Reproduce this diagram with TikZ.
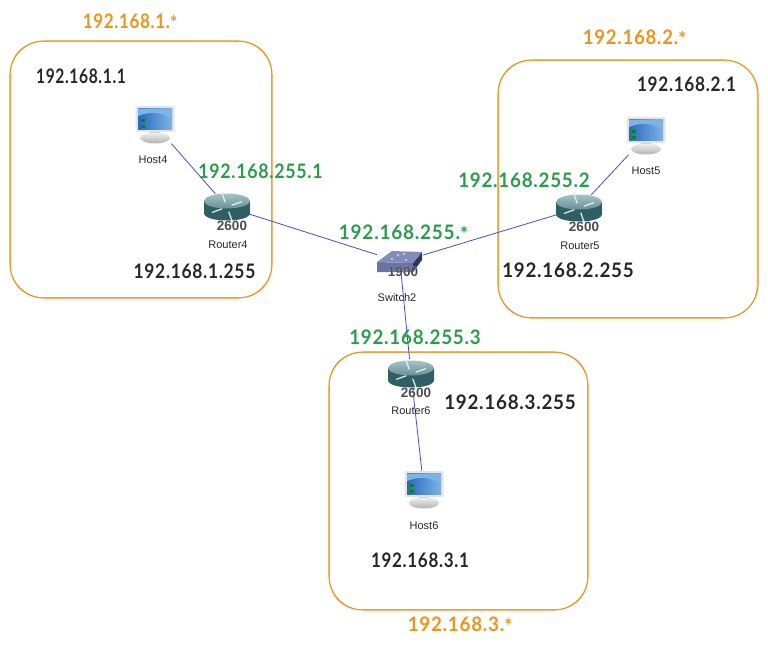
\documentclass[tikz,border=0pt]{standalone}
\usepackage{fontspec}
\usepackage{graphicx}
\usepackage[outline]{contour}
\usetikzlibrary{shapes.geometric}
\setmainfont{Liberation Sans}
\newfontfamily\handfont[LetterSpace=4]{Lato}
\contourlength{1pt}
\definecolor{netorange}{RGB}{243,146,20}
\definecolor{ipgreen}{RGB}{38,160,72}
\definecolor{linkblue}{RGB}{70,70,245}
\definecolor{routerdark}{RGB}{45,95,100}
\definecolor{routerlight}{RGB}{165,195,195}
\definecolor{routertop}{RGB}{105,145,150}
\definecolor{screenblue}{RGB}{40,105,190}
\definecolor{screenlight}{RGB}{125,180,230}
\definecolor{switchfront}{RGB}{105,115,165}
\definecolor{switchtop}{RGB}{130,140,185}
\definecolor{switchside}{RGB}{45,55,100}
\newcommand{\ipfit}[2]{\scalebox{#1}[1]{#2}}
\tikzset{
  netbox/.style={draw=netorange, line width=1.1pt, rounded corners=34pt, inner sep=0pt},
  netsketch/.style={draw=netorange, line width=0.5pt, rounded corners=31pt},
  link/.style={draw=linkblue, line width=0.8pt},
  devlabel/.style={font=\fontsize{11}{13}\selectfont, text=black!85, inner sep=0pt},
  iptext/.style={font=\handfont\bfseries\fontsize{20}{22}\selectfont, text=black!85, inner sep=0pt},
  ipnet/.style={iptext, text=netorange},
  iplink/.style={iptext, text=ipgreen},
  hostnode/.style={minimum width=39pt, minimum height=37pt, inner sep=0pt},
  routernode/.style={ellipse, minimum width=47pt, minimum height=30pt, inner sep=0pt},
  switchnode/.style={minimum width=46pt, minimum height=22pt, inner sep=0pt},
  modeltext/.style={font=\fontsize{13.5}{15}\selectfont\bfseries, text=black!70, inner sep=0pt},
  pics/hosticon/.style={code={
    \fill[black!10, rounded corners=1pt] (-19.5,-19) rectangle (19.5,7);
    \shade[left color=screenblue, right color=screenlight] (-17,-16.5) rectangle (17,4);
    \fill[screenlight] (-17,-16.5) -- (17,-16.5) -- (17,-6) .. controls (6,-13) and (-4,-14) .. (-17,-9) -- cycle;
    \fill[green!55!black] (-14,-6) rectangle (-10,-3);
    \fill[green!55!black] (-14,0) rectangle (-10,3);
    \fill[black!25] (-5,7) rectangle (5,10);
    \shade[top color=black!6, bottom color=black!30] (0,13) ellipse (15 and 5.5);
  }},
  pics/routericon/.style={code={
    \shade[left color=routerdark, middle color=routerlight, right color=routerdark]
      (-23,-6) -- (-23,6) .. controls (-23,16) and (23,16) .. (23,6) -- (23,-6) -- cycle;
    \shade[top color=routerlight, bottom color=routertop] (0,-6) ellipse (23 and 7.5);
    \foreach \ang in {20,110,200,290}
      \draw[white!90!teal, line width=1.2pt, rotate=\ang, yscale=0.33] (5,0) -- (16,0);
    \node[modeltext] (-model) at (5,19) {\contour{white}{2600}};
  }},
  pics/switchicon/.style={code={
    \fill[switchfront] (-23,0) -- (13,1) -- (13,10) -- (-23,10) -- cycle;
    \fill[switchside] (13,1) -- (22,-10) -- (22,-2) -- (13,10) -- cycle;
    \fill[switchtop] (-23,0) -- (-8,-11) -- (22,-10) -- (13,1) -- cycle;
    \foreach \dotx/\doty in {-8/-3,4/-8,6/-2,-2/-7}
      \fill[white] (\dotx,\doty) circle (0.9);
    \node[modeltext] (-model) at (3,10) {\contour{white}{1900}};
  }},
}
\begin{document}
\begin{tikzpicture}[x=1pt,y=-1pt]
  \useasboundingbox (0,0) rectangle (768,648);

  \node[netbox, minimum width=262pt, minimum height=257pt] (net1) at (141,169.5) {};
  \node[netbox, minimum width=260pt, minimum height=258pt] (net2) at (628,189) {};
  \node[netbox, minimum width=259pt, minimum height=258pt] (net3) at (458.5,481) {};
  \draw[netsketch] (10.5,41.5) rectangle (271.5,297.5);
  \draw[netsketch] (498.5,60.5) rectangle (757,317.5);
  \draw[netsketch] (329.5,352.5) rectangle (587.5,609.5);

  \foreach \name/\x/\y in {host4/155/125, host5/646/136, host6/424/490}
    \node[hostnode] (\name) at (\x,\y) {};
  \foreach \name/\x/\y in {router4/227/207, router5/579/208, router6/411/374}
    \node[routernode] (\name) at (\x,\y) {};
  \node[switchnode] (switch2) at (400,262) {};

  \draw[link] (host4) -- (router4);
  \draw[link] (host5) -- (router5);
  \draw[link] (host6) -- (router6);
  \draw[link] (router4) -- (switch2);
  \draw[link] (router5) -- (switch2);
  \draw[link] (router6) -- (switch2);

  \pic (host4pic) at (host4) {hosticon};
  \pic (host5pic) at (host5) {hosticon};
  \pic (host6pic) at (host6) {hosticon};
  \pic (router4pic) at (router4) {routericon};
  \pic (router5pic) at (router5) {routericon};
  \pic (router6pic) at (router6) {routericon};
  \pic (switch2pic) at (switch2) {switchicon};

  \node[devlabel] (host4name) at (153,160) {Host4};
  \node[devlabel] (host5name) at (646,171) {Host5};
  \node[devlabel] (host6name) at (424,526) {Host6};
  \node[devlabel] (router4name) at (228,245) {Router4};
  \node[devlabel] (router5name) at (580,246) {Router5};
  \node[devlabel] (router6name) at (411,411) {Router6};
  \node[devlabel] (switch2name) at (397,298) {Switch2};

  \node[ipnet] (net1ip) at (130,22) {\ipfit{.85}{192.168.1.\raisebox{-2pt}{*}}};
  \node[ipnet] (net2ip) at (634.5,38) {\ipfit{.93}{192.168.2.\raisebox{-2pt}{*}}};
  \node[ipnet] (net3ip) at (460,625) {\ipfit{.94}{192.168.3.\raisebox{-2pt}{*}}};

  \node[iptext] (host4ip) at (81,76) {\ipfit{.78}{192.168.1.1}};
  \node[iptext] (host5ip) at (686.5,84) {\ipfit{.86}{192.168.2.1}};
  \node[iptext] (host6ip) at (420,560) {\ipfit{.85}{192.168.3.1}};
  \node[iptext] (bcast1) at (194.5,271) {\ipfit{.87}{192.168.1.255}};
  \node[iptext] (bcast2) at (568,270) {\ipfit{.94}{192.168.2.255}};
  \node[iptext] (bcast3) at (510,402) {\ipfit{.94}{192.168.3.255}};

  \node[iplink] (router4ip) at (260.5,171) {\ipfit{.89}{192.168.255.1}};
  \node[iplink] (router5ip) at (524,180) {\ipfit{.94}{192.168.255.2}};
  \node[iplink] (router6ip) at (415,337) {\ipfit{.94}{192.168.255.3}};
  \node[iplink] (switch2ip) at (403.5,233) {\ipfit{.95}{192.168.255.\raisebox{-2pt}{*}}};
\end{tikzpicture}
\end{document}
